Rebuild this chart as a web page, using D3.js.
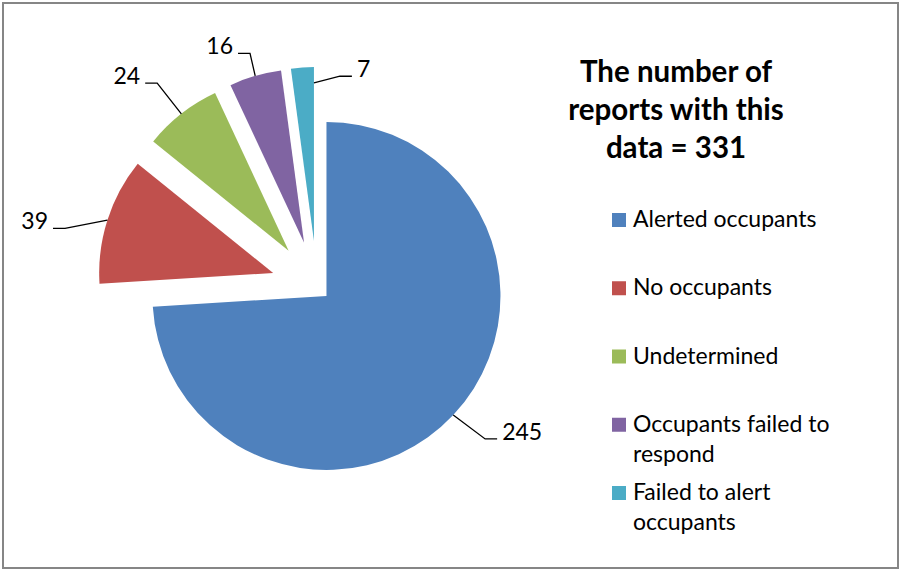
<!DOCTYPE html>
<html>
<head>
<meta charset="utf-8">
<script src="https://cdn.jsdelivr.net/npm/d3@7"></script>
<style>
  html, body { margin: 0; padding: 0; background: #fff; }
  svg { display: block; }
  text { font-family: Lato, "Open Sans", "DejaVu Sans", sans-serif; }
</style>
</head>
<body>
<svg id="chart" width="900" height="570"></svg>
<script>
// Outcome categories and report counts
const categories = [
  "Alerted occupants",
  "No occupants",
  "Undetermined",
  "Occupants failed to respond",
  "Failed to alert occupants"
];
const counts = [245, 39, 24, 16, 7];
// Legend lines (wrapped the way they are shown)
const legendLines = [
  ["Alerted occupants"],
  ["No occupants"],
  ["Undetermined"],
  ["Occupants failed to", "respond"],
  ["Failed to alert", "occupants"]
];
const titleLines = ["The number of", "reports with this", "data = 331"];
const colors = ["#4F81BD", "#C0504D", "#9BBB59", "#8064A2", "#4BACC6"];

// Layout
const W = 900, H = 570;
const cx = 317, cy = 287, R = 174;
const explode = [13, 46, 46, 46, 46];
// Leader-line layout per label: where it leaves the slice (fraction across the
// slice angle, fraction of radius), elbow polar position around the pie centre,
// and which side the horizontal tail runs.
const leaderLayout = [
  { at: 0.5, rf: 1.0, elbowDeg: 132.1, elbowR: 226.6, side: 1 },
  { at: 0.5, rf: 1.0, elbowDeg: 283.1, elbowR: 258.7, side: -1 },
  { at: 0.5, rf: 1.0, elbowDeg: 321.9, elbowR: 259.0, side: -1 },
  { at: 0.5, rf: 1.0, elbowDeg: 344.0, elbowR: 243.0, side: -1 },
  { at: 1.0, rf: 0.91, elbowDeg: 6.2, elbowR: 212.0, side: 1 }
];

const svg = d3.select("#chart");
svg.append("rect").attr("width", W).attr("height", H).attr("fill", "#fff");
svg.append("rect")
  .attr("x", 3).attr("y", 3).attr("width", 895).attr("height", 565)
  .attr("fill", "none").attr("stroke", "#868686").attr("stroke-width", 2);

const pie = d3.pie().sort(null).value(d => d).startAngle(0).endAngle(2 * Math.PI);
const arcs = pie(counts);
const arc = d3.arc().innerRadius(0).outerRadius(R);

const polar = (a, r) => [r * Math.sin(a), -r * Math.cos(a)];

const g = svg.append("g").attr("transform", `translate(${cx},${cy})`);

arcs.forEach((d, i) => {
  const mid = (d.startAngle + d.endAngle) / 2;
  d.offset = polar(mid, explode[i]);
});

g.selectAll("path.slice")
  .data(arcs)
  .join("path")
  .attr("class", "slice")
  .attr("transform", d => `translate(${d.offset[0]},${d.offset[1]})`)
  .attr("d", arc)
  .attr("fill", (d, i) => colors[i]);

// Data labels with leader lines
const tail = 12, gap = 5;
arcs.forEach((d, i) => {
  const L = leaderLayout[i];
  const a = d.startAngle + (d.endAngle - d.startAngle) * L.at;
  const p0 = polar(a, R * L.rf);
  const start = [p0[0] + d.offset[0], p0[1] + d.offset[1]];
  const elbow = polar(L.elbowDeg * Math.PI / 180, L.elbowR);
  const end = [elbow[0] + L.side * tail, elbow[1]];
  g.append("path")
    .attr("d", d3.line()([start, elbow, end]))
    .attr("fill", "none").attr("stroke", "#000").attr("stroke-width", 1.3);
  g.append("text")
    .attr("x", end[0] + L.side * gap)
    .attr("y", end[1] + 1)
    .attr("text-anchor", L.side > 0 ? "start" : "end")
    .attr("font-size", 23)
    .attr("fill", "#000")
    .text(counts[i]);
});

// Title
const title = svg.append("text")
  .attr("x", 676).attr("text-anchor", "middle")
  .attr("font-size", 29.5).attr("font-weight", 700).attr("fill", "#000");
titleLines.forEach((t, k) => {
  title.append("tspan").attr("x", 676).attr("y", 82 + k * 38).text(t);
});

// Legend
const legendY = d3.scaleLinear().domain([0, categories.length - 1]).range([227, 500]);
const leg = svg.append("g");
categories.forEach((c, i) => {
  const y = legendY(i);
  leg.append("rect")
    .attr("x", 612).attr("y", y - 14).attr("width", 14).attr("height", 14)
    .attr("fill", colors[i]);
  const t = leg.append("text").attr("font-size", 23).attr("fill", "#000");
  legendLines[i].forEach((line, k) => {
    t.append("tspan").attr("x", 633).attr("y", y + k * 30).text(line);
  });
});
</script>
</body>
</html>
